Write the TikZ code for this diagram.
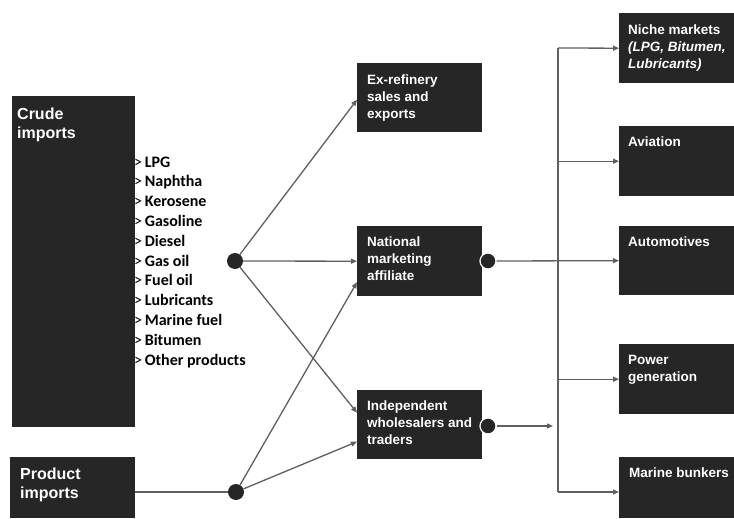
\documentclass[tikz,border=0pt]{standalone}
\usepackage{fontspec}
\setmainfont{Liberation Sans}
\newfontfamily\listfont{Carlito}
\usetikzlibrary{arrows.meta,positioning,calc}
\definecolor{boxgray}{RGB}{38,38,38}
\definecolor{linegray}{RGB}{95,95,95}

\tikzset{
    darkbox/.style={fill=boxgray, inner sep=0pt, anchor=north west},
    boxtext/.style={text=white, font=\bfseries\fontsize{13.5}{17}\selectfont, align=left, inner sep=0pt, anchor=north west},
    bigtext/.style={boxtext, font=\bfseries\fontsize{16}{19}\selectfont},
    hub/.style={circle, fill=boxgray, minimum size=16pt, inner sep=0pt},
    flow/.style={draw=linegray, line width=1.3pt, -{Triangle[length=6pt,width=5pt]}},
    link/.style={draw=linegray, line width=1.3pt},
}

\begin{document}
\begin{tikzpicture}[x=1pt,y=-1pt]
    \useasboundingbox (0,0) rectangle (734,519);

    % sources
    \node[darkbox, minimum width=123pt, minimum height=331pt] (crude) at (12,96) {};
    \node[bigtext] (crudetxt) at ([xshift=5pt,yshift=-12pt]crude.north west) {Crude\\imports};
    \node[darkbox, minimum width=125pt, minimum height=61pt] (product) at (10,457) {};
    \node[bigtext] (producttxt) at ([xshift=10pt,yshift=-11pt]product.north west) {Product\\imports};

    % product list
    \foreach \p [count=\i] in {LPG, Naphtha, Kerosene, Gasoline, Diesel, Gas oil, Fuel oil, Lubricants, Marine fuel, Bitumen, Other products}
        \node[anchor=base west, inner sep=0pt, font=\listfont\fontsize{16}{19}\selectfont] (item\i) at (134,{167+19.8*(\i-1)}) {>\,\textbf{\p}};

    % hubs
    \node[hub] (crudehub) at (235,261) {};
    \node[hub] (producthub) at (236,492) {};

    % channels
    \node[darkbox, minimum width=125pt, minimum height=69pt] (exref) at (357,63) {};
    \node[boxtext] (exreftxt) at ([xshift=10pt,yshift=-12pt]exref.north west) {Ex-refinery\\sales and\\exports};
    \node[darkbox, minimum width=125pt, minimum height=70pt] (national) at (357,226) {};
    \node[boxtext] (nationaltxt) at ([xshift=10pt,yshift=-11pt]national.north west) {National\\marketing\\affiliate};
    \node[darkbox, minimum width=125pt, minimum height=69pt] (indep) at (357,390) {};
    \node[boxtext] (indeptxt) at ([xshift=10pt,yshift=-11pt]indep.north west) {Independent\\wholesalers and\\traders};
    \node[hub, draw=white, line width=1.2pt] (nathub) at (488,261) {};
    \node[hub, draw=white, line width=1.2pt] (indhub) at (488,426) {};

    % markets
    \node[darkbox, minimum width=115pt, minimum height=70pt] (niche) at (619,13) {};
    \node[boxtext] (nichetxt) at ([xshift=9pt,yshift=-12pt]niche.north west) {Niche markets\\\textit{(LPG, Bitumen,}\\\textit{Lubricants)}};
    \node[darkbox, minimum width=115pt, minimum height=70pt] (aviation) at (619,126) {};
    \node[boxtext] (aviationtxt) at ([xshift=9pt,yshift=-11pt]aviation.north west) {Aviation};
    \node[darkbox, minimum width=115pt, minimum height=69pt] (auto) at (619,226) {};
    \node[boxtext] (autotxt) at ([xshift=9pt,yshift=-11pt]auto.north west) {Automotives};
    \node[darkbox, minimum width=115pt, minimum height=70pt] (power) at (619,344) {};
    \node[boxtext] (powertxt) at ([xshift=9pt,yshift=-11pt]power.north west) {Power\\generation};
    \node[darkbox, minimum width=115pt, minimum height=61pt] (marine) at (619,457) {};
    \node[boxtext] (marinetxt) at ([xshift=10pt,yshift=-11pt]marine.north west) {Marine bunkers};

    % connectors
    \draw[link] (product.east |- producthub) -- (producthub);
    \draw[flow] (crudehub) -- ([yshift=-2pt]exref.west);
    \draw[flow] (crudehub) -- (national.west);
    \draw[flow] (crudehub) -- ([yshift=12pt]indep.west);
    \draw[flow] (producthub) -- ([yshift=-21pt]national.west);
    \draw[flow] (producthub) -- ([yshift=-17pt]indep.west);

    \coordinate (trunktop) at (558,48);
    \coordinate (trunkbot) at (558,492);
    \draw[link] (trunktop) -- (trunkbot);
    \draw[flow] (nathub) -- (auto.west);
    \draw[flow] (indhub) -- ([xshift=-5pt]trunktop |- indhub);
    \draw[flow] (trunktop) -- (niche.west);
    \draw[flow] (trunktop |- aviation.west) -- (aviation.west);
    \draw[flow] (trunktop |- power.west) -- (power.west);
    \draw[flow] (trunkbot) -- (trunkbot -| marine.west);
\end{tikzpicture}
\end{document}
